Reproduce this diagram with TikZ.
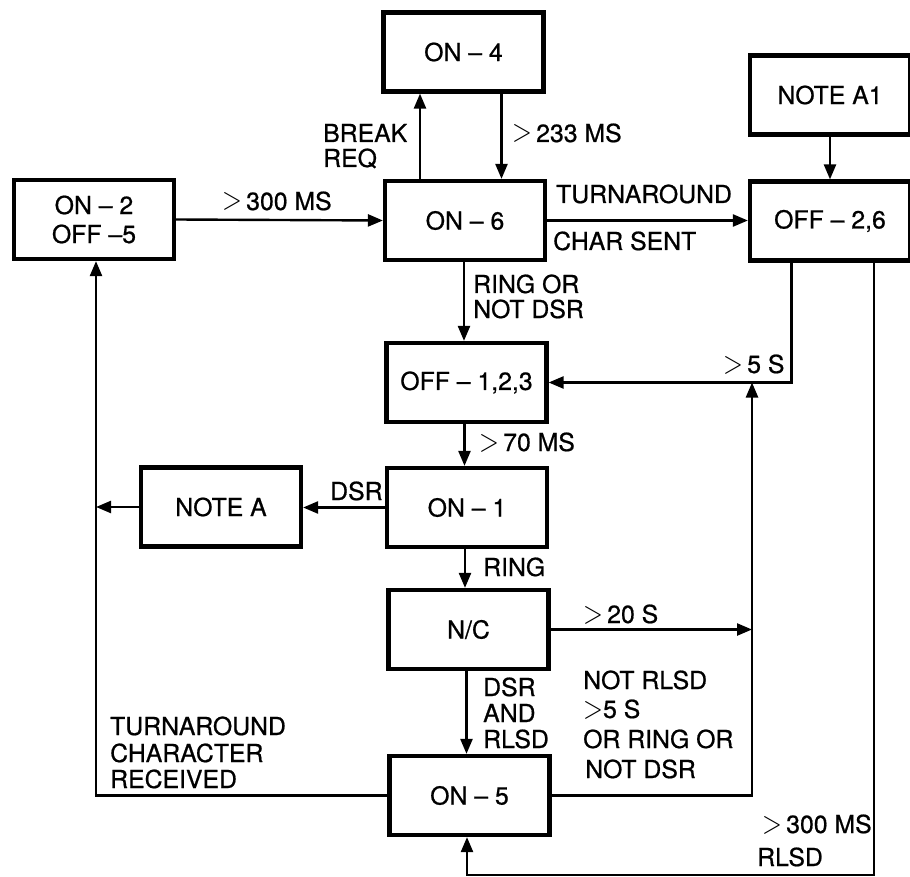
\documentclass[tikz,border=0pt]{standalone}
\usepackage{fontspec}
\setmainfont{TeX Gyre Heros}[FakeBold=0.7]
\usetikzlibrary{arrows.meta}
\newcommand\lbl{\fontsize{24.8}{29}\selectfont}
\newcommand\gt{\scalebox{1.05}[1.3]{$>$}}
\begin{document}
\begin{tikzpicture}[x=1pt,y=-1pt,
  box/.style={draw, line width=4.2pt, minimum width=160pt, minimum height=79pt, inner sep=0pt, align=center, font=\lbl},
  conn/.style={line width=2.4pt, -{Triangle[length=15pt,width=12pt]}},
  lab/.style={anchor=base west, inner sep=0pt, font=\lbl}]
\useasboundingbox (0,0) rectangle (910,877);
% boxes
\node[box] (on4)  at (463.5,52)   {ON -- 4};
\node[box] (na1)  at (830,95)     {NOTE A1};
\node[box] (on2)  at (94,219.5)   {ON -- 2\\OFF --5};
\node[box] (on6)  at (465,220.5)  {ON -- 6};
\node[box] (off26) at (830,221)   {OFF -- 2,6};
\node[box] (off123) at (466.5,382.5) {OFF -- 1,2,3};
\node[box] (noteA) at (221,507)   {NOTE A};
\node[box] (on1)  at (467,507.5)  {ON -- 1};
\node[box] (nc)   at (468.5,629.5) {N/C};
\node[box] (on5)  at (469.5,795.5) {ON -- 5};
% helper coordinates
\coordinate (Lx) at (96,0);
\coordinate (Rx) at (752,0);
\coordinate (By) at (0,875);
% connectors
\draw[conn] (on2.east) -- (on6.west);
\draw[conn] ([xshift=-45pt]on6.north) -- ([xshift=-45pt]on6.north |- on4.south);
\draw[conn] ([xshift=38pt]on4.south) -- ([xshift=38pt]on4.south |- on6.north);
\draw[conn] (on6.east) -- (on6.east -| off26.west);
\draw[conn] (na1.south) -- (off26.north);
\draw[conn] ([xshift=-1pt]on6.south) -- ([xshift=-1pt]on6.south |- off123.north);
\draw[conn] ([xshift=-38.5pt]off26.south) |- (off123.east);
\draw[conn] ([xshift=-2pt]off123.south) -- ([xshift=-2pt]off123.south |- on1.north);
\draw[conn] (on1.west) -- (on1.west -| noteA.east);
\draw[conn] (noteA.west) -- (noteA.west -| Lx);
\draw[conn] (on5.west) -| ([xshift=2pt]on2.south);
\draw[conn] ([xshift=-2pt]on1.south) -- ([xshift=-2pt]on1.south |- nc.north);
\draw[conn] (nc.east) -- (nc.east -| Rx);
\draw[conn] ([xshift=-2pt]nc.south) -- ([xshift=-2pt]nc.south |- on5.north);
\draw[conn] (on5.east) -| (Rx |- off123.east);
\draw[conn] ([xshift=44pt]off26.south) |- ([xshift=-2.5pt]on5.south |- By) -- ([xshift=-2.5pt]on5.south);
% labels
\node[lab] (l1) at (222,210) {\gt\,300 MS};
\node[lab] (l2a) at (323,142) {BREAK};
\node[lab] (l2b) at (323,167) {REQ};
\node[lab] (l3) at (512,142) {\gt\,233 MS};
\node[lab] (l4a) at (556,203) {TURNAROUND};
\node[lab] (l4b) at (553,250) {CHAR SENT};
\node[lab] (l5a) at (473,293) {RING OR};
\node[lab] (l5b) at (473,318) {NOT DSR};
\node[lab] (l6) at (723,373) {\gt\,5 S};
\node[lab] (l7) at (479,451) {\gt\,70 MS};
\node[lab] (l8) at (330,500) {DSR};
\node[lab] (l9) at (483,576) {RING};
\node[lab] (l10) at (583,623) {\gt\,20 S};
\node[lab] (l11a) at (483,696) {DSR};
\node[lab] (l11b) at (483,722) {AND};
\node[lab] (l11c) at (483,748) {RLSD};
\node[lab] (l12a) at (583,689) {NOT RLSD};
\node[lab] (l12b) at (583,718) {\gt5 S};
\node[lab] (l12c) at (583,748) {OR RING OR};
\node[lab] (l12d) at (585,778) {NOT DSR};
\node[lab] (l13a) at (762,833) {\gt\,300 MS};
\node[lab] (l13b) at (757,866) {RLSD};
\node[lab] (l14a) at (110,735) {TURNAROUND};
\node[lab] (l14b) at (110,762) {CHARACTER};
\node[lab] (l14c) at (110,788) {RECEIVED};
\end{tikzpicture}
\end{document}
